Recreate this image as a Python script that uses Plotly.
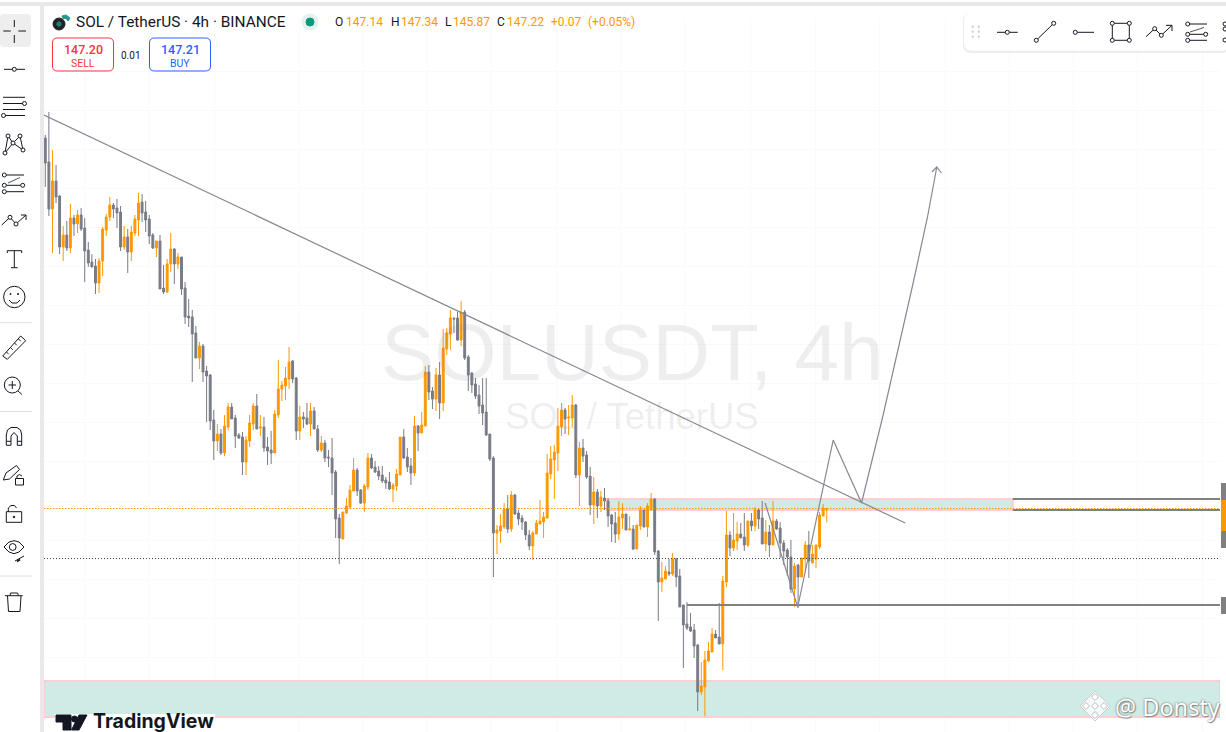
import plotly.graph_objects as go

W, H = 1226, 732

opens = [184.3,181.9,177.2,180.0,178.5,173.4,174.6,173.3,176.3,175.7,
176.6,175.3,173.1,171.9,171.5,169.8,172.0,175.1,176.4,177.6,
177.3,176.9,173.4,174.4,172.9,174.8,176.1,177.9,176.9,176.2,
174.6,173.3,174.0,169.3,168.9,171.7,173.2,171.7,172.4,169.3,
166.5,166.4,164.8,162.3,163.5,161.0,160.6,156.1,154.0,154.7,
152.8,155.4,157.4,156.3,154.6,154.4,151.9,154.0,155.7,157.5,
155.3,155.4,153.4,153.1,152.8,156.6,159.2,159.5,160.2,162.0,
160.3,155.0,156.4,156.3,155.7,157.0,155.2,153.1,153.8,152.4,
152.3,150.9,146.3,144.2,146.8,147.4,149.0,151.1,149.1,147.8,
149.4,152.3,151.4,151.0,150.6,150.1,149.9,149.2,149.5,150.6,
154.4,152.4,151.5,150.8,155.5,154.8,155.5,160.9,159.0,158.2,
160.6,157.8,163.2,164.7,166.3,166.3,164.1,166.9,162.4,160.8,
159.7,158.6,157.6,156.9,154.7,152.3,144.8,145.0,145.4,147.2,
145.2,148.6,146.8,146.3,145.9,144.6,143.5,144.7,145.7,145.9,
146.3,150.7,152.1,152.8,155.4,157.1,156.3,156.3,157.6,150.6,
153.3,152.6,150.5,147.6,148.9,147.5,148.3,148.0,146.6,145.8,
144.7,146.3,146.7,145.1,145.2,143.2,145.5,147.1,145.4,147.1,
148.2,143.0,139.9,140.2,140.9,140.7,142.2,140.5,137.6,135.7,
135.4,135.1,133.6,128.9,129.4,132.0,132.9,134.7,134.4,133.7,
139.9,144.6,143.3,144.0,144.7,144.4,143.6,146.0,145.5,147.1,
146.3,143.7,144.9,143.6,146.0,145.3,143.8,143.1,142.4,139.2,
141.6,140.4,142.2,143.6,141.8,142.2,143.4,146.5,147.14]
highs = [184.6,186.9,183.1,181.6,178.6,175.5,176.0,177.7,176.6,177.1,
177.3,176.3,173.9,172.7,172.2,172.3,175.4,176.7,178.4,177.8,
178.2,177.5,175.5,175.2,175.5,176.6,178.8,178.7,178.0,176.6,
174.8,174.0,174.6,171.6,172.2,174.8,173.3,172.8,172.4,169.9,
168.2,167.1,165.5,163.9,163.7,161.5,160.7,157.1,155.7,155.2,
156.6,157.8,157.8,156.6,154.8,154.9,154.5,156.6,157.8,158.7,
156.6,156.4,154.4,155.0,157.1,162.1,160.0,161.4,163.4,162.1,
160.4,157.5,156.9,157.8,157.8,157.4,155.6,154.5,154.1,153.1,
154.3,151.1,146.7,146.9,148.3,149.6,152.3,151.3,149.2,149.7,
152.8,152.7,152.0,151.5,151.5,150.4,150.9,149.8,151.2,154.4,
155.2,153.3,152.3,156.5,155.6,156.9,161.5,161.6,159.4,161.3,
161.9,165.2,165.3,167.1,166.3,166.9,168.0,167.1,162.6,160.9,
160.3,159.6,160.3,160.3,154.7,152.5,145.6,146.7,147.8,148.6,
149.0,148.7,147.1,146.6,146.0,145.1,145.0,146.1,148.1,146.9,
152.7,153.5,153.6,157.3,157.8,157.3,157.6,158.6,157.7,153.9,
154.2,153.0,151.4,150.4,149.2,149.0,149.3,148.3,146.7,146.9,
148.0,147.8,146.7,146.5,145.6,145.6,147.5,147.1,147.8,148.8,
148.3,143.1,141.9,141.5,142.2,142.8,142.3,141.2,137.6,137.9,
136.8,135.7,133.7,131.9,133.0,133.9,135.3,135.1,137.8,140.5,
147.0,145.0,146.8,145.9,145.8,146.8,146.0,146.8,147.4,147.2,
148.0,146.1,145.6,148.0,146.2,145.9,144.1,143.3,144.1,141.8,
141.7,142.3,144.0,145.0,143.6,143.6,146.9,147.7,147.34]
lows = [179.4,176.5,172.8,177.8,172.7,172.0,173.0,172.8,174.5,174.8,
175.0,169.9,171.4,171.4,168.7,168.8,170.5,174.5,176.0,176.3,
175.3,173.0,173.1,170.8,172.0,174.5,174.5,175.9,174.9,173.7,
173.2,172.4,169.2,168.7,168.8,170.9,169.7,171.2,168.6,165.7,
165.4,159.9,162.3,161.2,159.9,155.9,155.1,152.1,153.0,152.6,
152.5,155.1,156.2,153.3,154.2,150.6,150.6,153.4,155.1,155.2,
154.5,152.9,151.6,151.7,152.8,156.3,158.0,158.1,159.2,159.8,
154.1,154.1,155.3,155.6,154.5,155.2,152.9,152.9,151.9,151.4,
148.6,144.3,141.7,144.2,146.7,147.2,149.0,148.5,147.7,146.9,
149.1,151.2,150.8,150.1,149.8,149.2,149.1,147.9,149.0,150.6,
152.2,150.9,149.6,150.5,153.0,154.8,155.5,158.1,157.2,157.0,
156.2,157.0,162.6,163.1,164.8,164.0,163.5,162.1,159.0,158.8,
158.2,156.7,155.6,154.5,152.0,140.4,142.7,143.8,145.2,144.8,
144.9,146.6,145.6,145.1,144.1,143.1,142.1,144.7,145.7,144.3,
146.2,150.2,148.2,151.0,154.5,154.7,154.6,155.4,150.3,147.5,
151.9,150.2,146.6,145.7,146.3,146.9,147.1,145.4,143.9,143.8,
144.1,145.2,145.1,145.1,143.1,143.2,145.1,145.4,144.4,147.1,
142.6,136.0,138.9,140.2,140.5,140.5,139.4,137.4,131.3,135.1,
134.9,132.3,127.0,128.6,126.5,131.9,132.9,134.3,133.7,131.1,
139.4,142.5,143.0,143.1,144.3,143.0,143.4,145.0,145.0,145.2,
143.7,143.0,142.4,143.6,145.1,142.3,141.6,140.5,138.8,137.4,
137.3,140.4,140.9,140.3,141.8,141.3,143.2,146.5,145.87]
closes = [181.8,177.2,180.0,178.4,173.4,174.6,173.3,176.3,175.7,176.6,
175.2,173.0,171.8,171.4,169.8,172.0,175.2,176.4,177.6,177.2,
176.8,173.4,174.4,172.9,174.9,176.2,177.8,176.8,176.1,174.5,
173.3,174.0,169.2,168.9,171.7,173.2,171.7,172.4,169.2,166.4,
166.3,164.7,162.3,163.5,160.9,160.5,156.0,154.0,154.7,152.8,
155.5,157.4,156.2,154.5,154.3,151.9,154.1,155.8,157.5,155.2,
155.4,153.3,153.0,152.8,156.7,159.2,159.6,160.3,161.9,160.2,
155.0,156.4,156.2,155.7,157.0,155.2,153.1,153.8,152.3,152.3,
150.8,146.2,144.3,146.9,147.5,149.1,151.1,149.0,147.8,149.5,
152.3,151.3,150.9,150.5,150.0,149.8,149.2,149.6,150.7,154.4,
152.3,151.4,150.8,155.5,154.8,155.6,160.9,158.9,158.2,160.6,
157.8,163.3,164.8,166.3,166.2,164.1,166.9,162.3,160.6,159.6,
158.5,157.5,156.8,154.6,152.2,144.8,145.1,145.5,147.2,145.2,
148.6,146.7,146.2,145.9,144.6,143.5,144.8,145.8,146.0,146.4,
150.8,152.2,152.9,155.5,157.1,156.2,156.4,157.6,150.6,153.3,
152.5,150.4,147.6,148.9,147.5,148.4,148.0,146.5,145.7,144.7,
146.4,146.7,145.1,145.2,143.2,145.6,147.1,145.4,147.5,148.2,
142.9,139.9,140.3,141.0,140.7,142.2,140.4,137.4,135.6,135.3,
135.0,133.5,128.9,129.5,132.1,133.0,134.7,134.3,133.7,140.0,
144.6,143.3,144.1,144.7,144.3,143.6,146.0,145.5,147.1,146.2,
143.7,144.9,143.6,146.0,145.2,143.8,143.0,142.4,139.2,141.5,
140.4,142.3,143.6,142.0,142.7,143.6,146.6,147.3,147.22]

bar_index = list(range(len(opens)))

trend_bars = [-0.36, 239.9]
trend_prices = [186.6, 145.8]
zigzag_bars = [200.8, 209.9, 219.8, 227.7, 233.6, 237.9, 242.1, 246.1, 248.7]
zigzag_prices = [147.8, 137.4, 154.1, 147.8, 156.4, 163.1, 169.8, 176.4, 181.4]
head_bars = [247.3, 248.7, 250.0]
head_prices = [180.9, 181.4, 180.8]
last_price = 147.25
prev_level = 142.25
support_level = 137.6
support_start = 179.0
upper_zone = [147.1, 148.2]
upper_zone_bars = [156.7, 269.9]
lower_zone = [126.4, 130.0]
x_edges = [-0.36, 327.7]
y_edges = [124.9, 196.3]
x_grid = [10.8, 28.9, 47.1, 70.8, 88.9, 106.7, 124.6, 142.7, 160.6, 178.4, 196.8, 214.9,
          232.8, 251.0, 269.1, 286.9, 304.8, 322.9]
y_grid = [191.0, 187.1, 183.2, 179.3, 175.4, 171.5, 167.6, 163.7, 159.8, 155.9, 152.0,
          148.0, 144.1, 140.2, 136.3, 132.4, 128.5]

ORANGE = "#FF9800"
GREY = "#787B86"
LINE = "#868993"
INK = "#131722"
PINK = "#FFCDD2"
TEAL = "#CFEBE5"


def px(x):
    return x / W


def py(y):
    return 1 - y / H


shapes = []


def seg(x0, y0, x1, y1, color=INK, width=1):
    shapes.append(dict(type="line", xref="paper", yref="paper", x0=px(x0), y0=py(y0), x1=px(x1), y1=py(y1),
                       line=dict(color=color, width=width)))


def poly(points, color=INK, width=1):
    for a, b in zip(points, points[1:]):
        seg(a[0], a[1], b[0], b[1], color, width)


def circ(cx, cy, r, color=INK, fill="white", width=1):
    shapes.append(dict(type="circle", xref="paper", yref="paper", x0=px(cx - r), x1=px(cx + r),
                       y0=py(cy + r), y1=py(cy - r), line=dict(color=color, width=width), fillcolor=fill))


def rect(x0, y0, x1, y1, fill, color=None, width=0, layer="above"):
    shapes.append(dict(type="rect", xref="paper", yref="paper", x0=px(x0), x1=px(x1), y0=py(y1), y1=py(y0),
                       fillcolor=fill, line=dict(color=color or fill, width=width), layer=layer))


def path(points, fill=None, color=INK, width=1, close=True, opacity=1):
    d = "M " + " L ".join(f"{px(a):.5f},{py(b):.5f}" for a, b in points) + (" Z" if close else "")
    shapes.append(dict(type="path", xref="paper", yref="paper", path=d, fillcolor=fill or "rgba(0,0,0,0)",
                       line=dict(color=color, width=width), opacity=opacity))


def rrect(x0, y0, x1, y1, r, fill, color=None, width=1, opacity=1):
    d = (f"M {px(x0+r):.5f},{py(y0):.5f} L {px(x1-r):.5f},{py(y0):.5f} Q {px(x1):.5f},{py(y0):.5f} {px(x1):.5f},{py(y0+r):.5f} "
         f"L {px(x1):.5f},{py(y1-r):.5f} Q {px(x1):.5f},{py(y1):.5f} {px(x1-r):.5f},{py(y1):.5f} "
         f"L {px(x0+r):.5f},{py(y1):.5f} Q {px(x0):.5f},{py(y1):.5f} {px(x0):.5f},{py(y1-r):.5f} "
         f"L {px(x0):.5f},{py(y0+r):.5f} Q {px(x0):.5f},{py(y0):.5f} {px(x0+r):.5f},{py(y0):.5f} Z")
    shapes.append(dict(type="path", xref="paper", yref="paper", path=d, fillcolor=fill,
                       line=dict(color=color or fill, width=width if color else 0), opacity=opacity))


# zones (above the grid, below the candles, in chart coordinates)
def zone(x0, x1, y0, y1):
    shapes.append(dict(type="rect", xref="x", yref="y", x0=x0, x1=x1, y0=y0, y1=y1, fillcolor=TEAL,
                       line=dict(color=PINK, width=2), layer="between"))


zone(upper_zone_bars[0], upper_zone_bars[1], upper_zone[0], upper_zone[1])
zone(x_edges[0], x_edges[1], lower_zone[0], lower_zone[1])

# frame
rect(0, 2, W, 6, "#E9E9E9")
rect(40, 2, 44, H, "#E9E9E9")
rect(1221, 483, W, 548, "#808080")
rect(1221, 500, W, 531, ORANGE)
rect(1221, 597, W, 614, "#808080")

# left toolbar
rrect(0, 14, 31, 47, 4, "#EEEEEE")
for a in [(3.3, 31, 10.7, 31), (18.3, 31, 26, 31), (14.3, 20, 14.3, 27), (14.3, 35, 14.3, 43)]:
    seg(*a)
seg(4, 69.3, 25, 69.3)
circ(14.3, 69.3, 2)
for yy, x0, x1 in [(97.3, 3, 25), (103.5, 3, 23), (109.5, 3, 25), (115.5, 5, 25)]:
    seg(x0, yy, x1, yy)
circ(24.5, 103.5, 2)
circ(3.5, 115.5, 2)
poly([(5, 153), (8, 136), (13, 143), (20, 136), (23, 150), (13, 143), (5, 153)])
for c in [(8, 136), (20, 136), (13, 143), (5, 153), (23, 150)]:
    circ(c[0], c[1], 2)
seg(6, 175, 24, 175)
seg(6, 185.3, 22, 185.3)
seg(6, 191.7, 24, 191.7)
seg(8, 183, 20, 177.5, color="#555", width=1)
for c in [(4.3, 175), (4.3, 185.3), (22.7, 185.3), (4.3, 191.7)]:
    circ(c[0], c[1], 2)
poly([(1.7, 225), (10, 217.3), (16, 224), (26, 215)])
poly([(21, 215), (26, 215), (26, 220)])
circ(10, 217.3, 2)
circ(16, 224, 2)
seg(7.3, 250.7, 21.7, 250.7)
seg(14.3, 250.7, 14.3, 267.7)
seg(11, 267.7, 17.7, 267.7)
seg(7.3, 250.7, 7.3, 253)
seg(21.7, 250.7, 21.7, 253)
circ(14.3, 297, 10.7)
circ(10.5, 294, 0.6, fill=INK)
circ(18, 294, 0.6, fill=INK)
poly([(9, 300), (12, 303), (17, 303), (20, 300)])
for yy in [322.7, 411.5, 576]:
    seg(0, yy, 32, yy, color="#E0E0E0")
path([(2.7, 356), (20.7, 336), (25.7, 340.7), (7.3, 359.3)])
for t in [(6.5, 352), (10.5, 347.5), (14.5, 343), (18.5, 339)]:
    seg(t[0], t[1], t[0] + 2.2, t[1] + 2.2)
circ(12.3, 385, 8)
seg(18, 391, 22, 394.5)
seg(8.5, 385, 16, 385)
seg(12.3, 381, 12.3, 389)
path([(6.3, 445.3), (6.3, 435), (7.5, 430), (11, 427.5), (17, 427.5), (20.5, 430), (21.7, 435), (21.7, 445.3),
      (17.3, 445.3), (17.3, 436), (14, 432.5), (11, 436), (11, 445.3)])
seg(6.3, 441.3, 11, 441.3)
seg(17.3, 441.3, 21.7, 441.3)
path([(3.3, 480), (6, 473), (16.5, 465.5), (19.5, 469.5), (9.5, 479), (3.3, 480)])
rect(15.5, 478.5, 23.5, 485, "white", INK, 1)
poly([(17, 478.5), (17, 476), (19.5, 474.5), (22, 476)])
rect(6.3, 511.7, 21.7, 522.3, "white", INK, 1)
poly([(8.3, 511.7), (8.3, 508), (11, 505.5), (14.5, 505.5), (16.5, 508)])
circ(14, 517, 0.8, fill=INK)
path([(4, 547), (9, 542), (14, 540.7), (19, 542), (24, 547), (19, 552), (14, 553.7), (9, 552)])
circ(12.7, 547, 3.4)
seg(15, 561, 24, 556)
seg(17, 561.5, 20, 559.5, width=2)
seg(5, 595.7, 22.7, 595.7)
poly([(10, 595.7), (10.5, 593), (17.5, 593), (18.5, 595.7)])
poly([(7.5, 596), (8.5, 611.5), (20, 611.5), (21, 596)])

# top-right toolbar
rrect(963, 13, 1230, 53, 8, "#000000", opacity=0.07)
rrect(964, 12.7, 1230, 50.7, 8, "white")
for dx in (972.7, 978.7):
    for dy in (26.7, 31.7, 36.7):
        circ(dx, dy, 0.8, color="#CFCFCF", fill="#CFCFCF")
seg(997, 32.3, 1017.7, 32.3)
circ(1007.3, 32.3, 2)
seg(1036.3, 40.3, 1053.7, 23.3)
circ(1036.3, 40.3, 2)
circ(1053.7, 23.3, 2)
seg(1075.3, 32.3, 1094, 32.3)
circ(1075.3, 32.3, 2)
path([(1112.3, 23.3), (1129.3, 23.3), (1129.3, 40.3), (1112.3, 40.3)])
for c in [(1112.3, 23.3), (1129.3, 23.3), (1112.3, 40.3), (1129.3, 40.3)]:
    circ(c[0], c[1], 2)
poly([(1146, 36.7), (1154.7, 28.7), (1161.3, 35.3), (1172, 25.3)])
poly([(1166, 25.3), (1172, 25.3), (1172, 31)])
circ(1154.7, 28.7, 2)
circ(1161.3, 35.3, 2)
seg(1187, 24, 1207, 24)
seg(1187, 34.3, 1205, 34.3)
seg(1187, 40.3, 1207, 40.3)
seg(1190, 32, 1204, 27.5, color="#555")
for c in [(1187.7, 24), (1187.7, 34.3), (1205.7, 34.3), (1187.7, 40.3)]:
    circ(c[0], c[1], 2)
for c in [(1225, 24), (1225, 29), (1225, 40)]:
    circ(c[0], c[1], 2)

# legend items
circ(59, 24, 6, color="#222", fill="#222")
circ(59, 24, 2.2, color="#1a7f7a", fill="#1a7f7a")
path([(62, 16), (66, 15), (70, 18), (68, 21), (66, 18.5), (63, 18.5)], fill="#22998c", color="#22998c")
circ(310, 22, 8, color="#E3F1EF", fill="#E3F1EF")
circ(310, 22, 4, color="#089981", fill="#089981")
rrect(52.5, 38, 113.5, 71, 5, "white", "#F23645", 1)
rrect(149.5, 38, 210.5, 71, 5, "white", "#2962FF", 1)

# TradingView badge
rect(55, 714, 215, H, "white")
path([(56, 715), (71, 715), (71, 730), (63, 730), (63, 722), (56, 722)], fill="#131722", color="#131722")
circ(74.5, 719, 3, color="#131722", fill="#131722")
path([(87, 715), (79, 730), (71.5, 730), (79, 715)], fill="#131722", color="#131722")

# corner mark
for cx, cy, r in [(1095, 706, 15), ]:
    path([(cx, cy - r), (cx + r, cy), (cx, cy + r), (cx - r, cy)], fill="rgba(255,255,255,0.75)", color="#C9CDCC")
for cx, cy, r in [(1095, 706, 3.5), (1095, 697, 3.5), (1095, 715, 3.5), (1086, 706, 3.5), (1104, 706, 3.5)]:
    path([(cx, cy - r), (cx + r, cy), (cx, cy + r), (cx - r, cy)], fill="white", color="#B9BDBC")

annotations = []


def label(x, y, text, size, color=INK, family="Roboto", anchor="left", **kw):
    annotations.append(dict(xref="paper", yref="paper", x=px(x), y=py(y), text=text, showarrow=False,
                            xanchor=anchor, yanchor="middle", borderpad=0,
                            font=dict(family=family, size=size, color=color, **kw)))


WM = "rgba(120,123,134,0.13)"
label(632, 352, "SOLUSDT, 4h", 80, WM, "Liberation Sans", "center")
label(632, 416, "SOL / TetherUS", 36.5, WM, "Liberation Sans", "center")
label(75, 22, "SOL / TetherUS · 4h · BINANCE", 15.4, INK, "Roboto")
for x, t, c in [(334, "O", INK), (345, "147.14", ORANGE), (390, "H", INK), (400, "147.34", ORANGE),
                (444, "L", INK), (452, "145.87", ORANGE), (496, "C", INK), (506, "147.22", ORANGE),
                (550, "+0.07", ORANGE), (587, "(+0.05%)", ORANGE)]:
    label(x, 22, t, 12, c, "Roboto")
label(83, 49, "147.20", 12.5, "#F23645", "Roboto", "center", weight=500)
label(83, 63, "SELL", 10.5, "#F23645", "Roboto", "center")
label(130.5, 55.5, "0.01", 10, INK, "Roboto", "center")
label(180, 49, "147.21", 12.5, "#2962FF", "Roboto", "center", weight=500)
label(180, 63, "BUY", 10.5, "#2962FF", "Roboto", "center")
label(92, 720.5, "TradingView", 19.5, "#131722", "Inter", weight=700)
label(1114, 707, "@ Donsty", 23.5, "white", "Noto Sans", shadow="0 0 2px #555, 1px 1px 1px #999")

fig = go.Figure()
fig.add_trace(go.Candlestick(
    x=bar_index, open=opens, high=highs, low=lows, close=closes,
    increasing=dict(line=dict(color=ORANGE, width=1), fillcolor=ORANGE),
    decreasing=dict(line=dict(color=GREY, width=1), fillcolor=GREY),
    showlegend=False, hoverinfo="skip"))


def chart_line(xs, ys, color, width, dash="solid"):
    fig.add_trace(go.Scatter(x=xs, y=ys, mode="lines", showlegend=False, hoverinfo="skip",
                             line=dict(color=color, width=width, dash=dash)))


chart_line(x_edges, [last_price, last_price], ORANGE, 1.2, "1.5px,1.5px")
chart_line(x_edges, [prev_level, prev_level], "#444444", 1, "1px,2px")
chart_line([support_start, x_edges[1]], [support_level, support_level], "#808080", 2.2)
chart_line([upper_zone_bars[1], x_edges[1]], [upper_zone[1], upper_zone[1]], "#808080", 2.2)
chart_line([upper_zone_bars[1], x_edges[1]], [upper_zone[0], upper_zone[0]], "#808080", 2.2)
chart_line(trend_bars, trend_prices, LINE, 1.2)
chart_line(zigzag_bars, zigzag_prices, LINE, 1.2)
chart_line(head_bars, head_prices, LINE, 1.2)

fig.update_layout(
    width=W, height=H, margin=dict(l=0, r=0, t=0, b=0), autosize=False,
    paper_bgcolor="white", plot_bgcolor="white", showlegend=False, boxgap=0.25,
    shapes=shapes, annotations=annotations,
    xaxis=dict(domain=[px(44), px(1220)], range=x_edges, rangeslider=dict(visible=False),
               tickmode="array", tickvals=x_grid, showticklabels=False, ticks="",
               showgrid=True, gridcolor="#FAFAFB", gridwidth=1, zeroline=False, showline=False, fixedrange=True),
    yaxis=dict(domain=[0, py(18)], range=y_edges, tickmode="array", tickvals=y_grid,
               showticklabels=False, ticks="", showgrid=True, gridcolor="#FAFAFB", gridwidth=1,
               zeroline=False, showline=False, fixedrange=True),
)
fig.write_html("out.html", config=dict(displayModeBar=False),
               post_script="document.body.style.margin='0';")
